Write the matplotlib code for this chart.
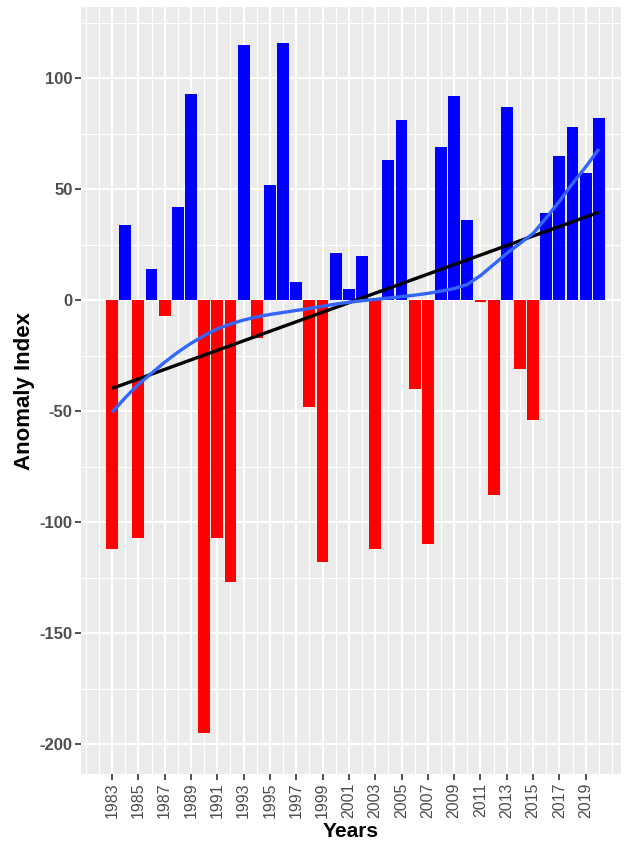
import numpy as np
import matplotlib.pyplot as plt
from matplotlib.ticker import MultipleLocator

plt.rcParams['font.family'] = ['Liberation Sans', 'DejaVu Sans']
plt.rcParams['axes.unicode_minus'] = False

# anomaly index per year
years = list(range(1983, 2021))
anomaly = [-112, 34, -107, 14, -7, 42, 93, -195, -107, -127,
           115, -17, 52, 116, 8, -48, -118, 21, 5, 20,
           -112, 63, 81, -40, -110, 69, 92, 36, -1, -88,
           87, -31, -54, 39, 65, 78, 57, 82]

# loess-like smooth curve
smooth_vals = [-50.6, -44, -38, -33, -28, -23.5, -19.5, -16, -13, -10.8,
               -9, -7.6, -6.5, -5.6, -4.7, -3.8, -2.8, -1.8, -1, -0.3,
               0.3, 0.9, 1.5, 2.2, 3, 4, 5.2, 7, 11, 16,
               21, 25.5, 30, 37, 44.5, 52.5, 60, 68]

year_ticks = list(range(1983, 2020, 2))
y_ticks = [-200, -150, -100, -50, 0, 50, 100]

x = np.array(years)
y = np.array(anomaly)
colors = ['#0000FF' if v > 0 else '#FF0000' for v in anomaly]

# linear trend (lm)
slope, icpt = np.polyfit(x, y, 1)
trend = slope * x + icpt

fig = plt.figure(figsize=(6.24, 8.43), dpi=100)
ax = fig.add_axes([81 / 624, 69 / 843, 540 / 624, 767 / 843])
ax.set_facecolor('#EBEBEB')

ax.bar(x, y, width=0.9, color=colors, zorder=2)
ax.plot(x, trend, color='black', lw=2.4, zorder=3, solid_capstyle='butt')
ax.plot(x, smooth_vals, color='#3366FF', lw=2.4, zorder=4, solid_capstyle='butt')

ax.set_xlim(1980.64, 2021.68)
ax.set_ylim(-213.5, 132)
ax.set_xticks(year_ticks)
ax.set_xticklabels([str(t) for t in year_ticks], rotation=90, fontsize=11.5)
ax.xaxis.set_minor_locator(MultipleLocator(1))
ax.set_yticks(y_ticks)
ax.yaxis.set_minor_locator(MultipleLocator(25))

ax.grid(which='major', color='white', lw=1.6, zorder=0)
ax.grid(which='minor', color='white', lw=0.8, zorder=0)
ax.set_axisbelow(True)
for s in ax.spines.values():
    s.set_visible(False)

ax.tick_params(which='major', length=4, width=1.2, color='#333333',
               labelcolor='#4D4D4D', pad=2)
ax.tick_params(axis='y', labelsize=12)
ax.tick_params(which='minor', length=0)
for lab in ax.get_yticklabels():
    lab.set_fontweight('bold')

ax.set_xlabel('Years', fontsize=15, fontweight='bold', labelpad=3)
ax.set_ylabel('Anomaly Index', fontsize=16, fontweight='bold', labelpad=3)

fig.savefig('out.png', dpi=100)
